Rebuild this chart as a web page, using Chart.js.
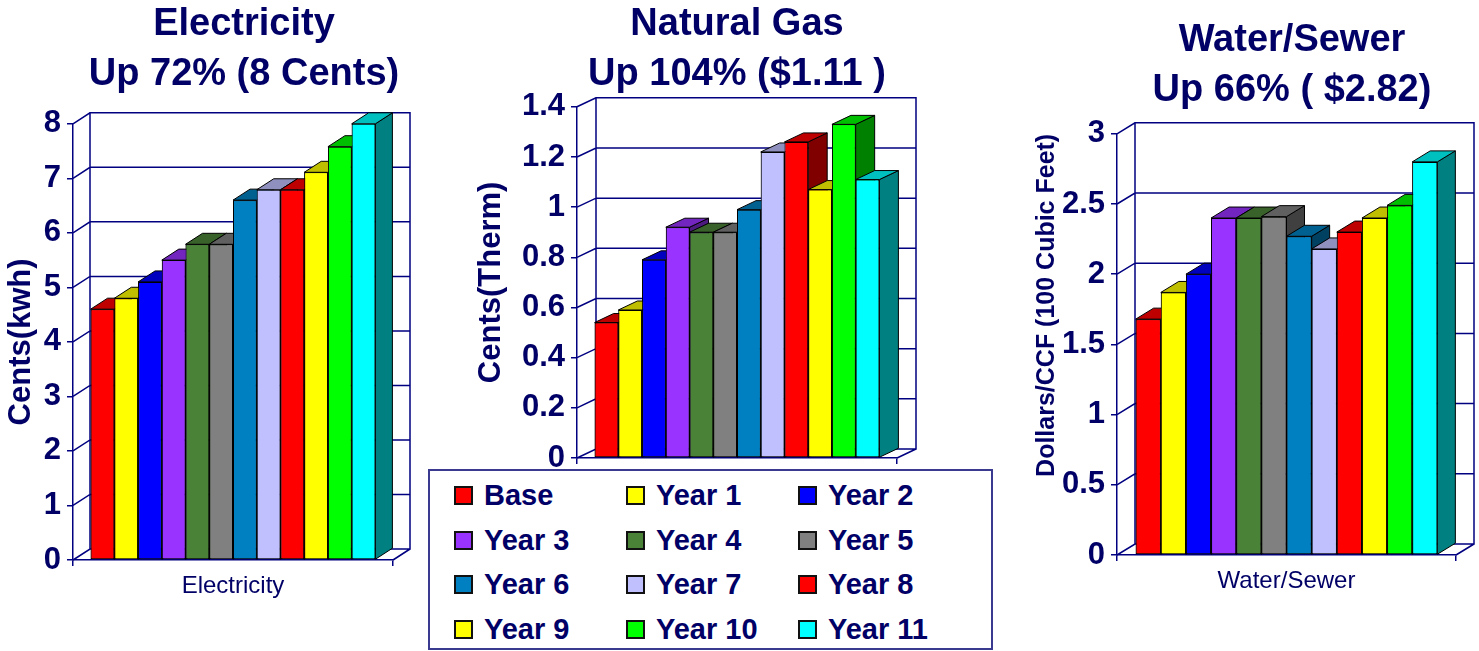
<!DOCTYPE html>
<html>
<head>
<meta charset="utf-8">
<title>Utility rates</title>
<script src="https://cdn.jsdelivr.net/npm/chart.js@4/dist/chart.umd.min.js"></script>
<style>
  html, body { margin: 0; padding: 0; background: #fff; overflow: hidden; }
  body { width: 1479px; height: 651px; position: relative; font-family: "Liberation Sans", Arial, sans-serif; }
  canvas { position: absolute; top: 0; }
  #elec { left: 0; }
  #gas { left: 470px; }
  #water { left: 1029px; }
  #legend {
    position: absolute; left: 428px; top: 469px; width: 565px; height: 181px;
    box-sizing: border-box; border: 2px solid #3a3a90; background: #fff;
    display: grid; grid-template-columns: 172px 172px 1fr; grid-auto-rows: 44.7px;
    padding: 2px 0 0 24px;
  }
  .item { display: flex; align-items: center; font-weight: bold; font-size: 29px; color: #000066; white-space: nowrap; }
  .sw { width: 19px; height: 19px; box-sizing: border-box; border: 2px solid #111; margin-right: 11px; flex: none; }
</style>
</head>
<body>
<canvas id="elec" width="488" height="600"></canvas>
<canvas id="gas" width="534" height="498"></canvas>
<canvas id="water" width="526" height="595"></canvas>
<div id="legend"></div>
<script>
const series = ['Base', 'Year 1', 'Year 2', 'Year 3', 'Year 4', 'Year 5',
                'Year 6', 'Year 7', 'Year 8', 'Year 9', 'Year 10', 'Year 11'];
const colors = ['#FF0000', '#FFFF00', '#0000FF', '#9933FF', '#4A8237', '#808080',
                '#0080C0', '#C0C0FF', '#FF0000', '#FFFF00', '#00FF00', '#00FFFF'];

const elecCategory = ['Electricity'];
const elecValues = [4.6, 4.8, 5.1, 5.5, 5.79, 5.79, 6.6, 6.79, 6.79, 7.11, 7.58, 8.0];
const elecTicks = [0, 1, 2, 3, 4, 5, 6, 7, 8];

const gasCategory = ['Natural Gas'];
const gasValues = [0.54, 0.59, 0.79, 0.92, 0.9, 0.9, 0.99, 1.22, 1.26, 1.07, 1.33, 1.11];
const gasTicks = [0, 0.2, 0.4, 0.6, 0.8, 1, 1.2, 1.4];

const waterCategory = ['Water/Sewer'];
const waterValues = [1.68, 1.87, 2.0, 2.4, 2.4, 2.41, 2.27, 2.18, 2.3, 2.4, 2.49, 2.8];
const waterTicks = [0, 0.5, 1, 1.5, 2, 2.5, 3];

const NAVY = '#000080';
const TEXT = '#000066';

Chart.defaults.font.family = '"Liberation Sans", Arial, sans-serif';
Chart.defaults.color = TEXT;

function shade(hex, f) {
  const n = parseInt(hex.slice(1), 16);
  const r = Math.round(((n >> 16) & 255) * f);
  const g = Math.round(((n >> 8) & 255) * f);
  const b = Math.round((n & 255) * f);
  return 'rgb(' + r + ',' + g + ',' + b + ')';
}

function poly(ctx, pts, fill) {
  ctx.beginPath();
  ctx.moveTo(pts[0][0], pts[0][1]);
  for (let i = 1; i < pts.length; i++) ctx.lineTo(pts[i][0], pts[i][1]);
  ctx.closePath();
  ctx.fillStyle = fill;
  ctx.fill();
  ctx.stroke();
}

// fake 3d: back wall + left wall + floor, then top/side faces of each bar
const box3d = {
  id: 'box3d',
  beforeDatasetsDraw(chart, args, opts) {
    const {ctx, chartArea: a} = chart;
    const y = chart.scales.y;
    const dx = opts.dx, dy = opts.dy;
    ctx.save();
    ctx.strokeStyle = NAVY;
    ctx.lineWidth = 1.5;
    ctx.beginPath();
    ctx.rect(a.left + dx, a.top + dy, a.width, a.height);
    y.ticks.forEach(t => {
      const py = y.getPixelForValue(t.value);
      ctx.moveTo(a.left, py);
      ctx.lineTo(a.left + dx, py + dy);
      ctx.lineTo(a.right + dx, py + dy);
    });
    ctx.moveTo(a.right, a.bottom);
    ctx.lineTo(a.right + dx, a.bottom + dy);
    ctx.stroke();
    ctx.restore();
  },
  afterDatasetsDraw(chart, args, opts) {
    const ctx = chart.ctx;
    const dx = opts.dx, dy = opts.dy;
    ctx.save();
    ctx.lineWidth = 1;
    ctx.strokeStyle = '#000';
    ctx.lineJoin = 'round';
    chart.data.datasets.forEach((ds, i) => {
      chart.getDatasetMeta(i).data.forEach(bar => {
        const p = bar.getProps(['x', 'y', 'base', 'width'], true);
        const l = p.x - p.width / 2, r = p.x + p.width / 2;
        poly(ctx, [[r, p.y], [r + dx, p.y + dy], [r + dx, p.base + dy], [r, p.base]], shade(ds.backgroundColor, 0.5));
        poly(ctx, [[l, p.y], [l + dx, p.y + dy], [r + dx, p.y + dy], [r, p.y]], shade(ds.backgroundColor, 0.75));
        bar.draw(ctx);
      });
    });
    ctx.restore();
  }
};

function makeChart(id, c) {
  return new Chart(document.getElementById(id), {
    type: 'bar',
    data: {
      labels: c.category,
      datasets: series.map((name, i) => ({
        label: name,
        data: [c.values[i]],
        backgroundColor: colors[i],
        borderColor: '#000',
        borderWidth: 1,
        borderSkipped: false,
        categoryPercentage: 0.89,
        barPercentage: 1
      }))
    },
    options: {
      responsive: false,
      animation: false,
      events: [],
      layout: { padding: 0 },
      plugins: {
        legend: { display: false },
        tooltip: { enabled: false },
        title: {
          display: true,
          text: c.title,
          color: TEXT,
          font: { size: 38, weight: 'bold', lineHeight: 1.3 },
          padding: { top: c.titleTop, bottom: c.titleBottom }
        },
        box3d: c.depth
      },
      scales: {
        x: {
          afterFit: s => { s.height = 40; },
          ticks: { display: c.showCategory, color: TEXT, font: { size: 24 }, padding: 6 },
          grid: { drawOnChartArea: false, offset: true, tickLength: 6, color: NAVY, lineWidth: 1.5 },
          border: { color: NAVY, width: 1.5 }
        },
        y: {
          min: 0,
          max: c.ticks[c.ticks.length - 1],
          afterBuildTicks: s => { s.ticks = c.ticks.map(v => ({ value: v })); },
          afterFit: s => { s.width = c.axisWidth; },
          ticks: { color: TEXT, font: { size: 31, weight: 'bold' }, padding: 6, callback: v => String(v) },
          grid: { drawOnChartArea: false, tickLength: 6, color: NAVY, lineWidth: 1.5 },
          border: { color: NAVY, width: 1.5 },
          title: {
            display: true,
            text: c.yTitle,
            align: c.yTitleAlign,
            color: TEXT,
            font: { size: c.yTitleSize, weight: 'bold', lineHeight: 1.2 },
            padding: { top: 3, bottom: 0 }
          }
        },
        // empty space on the right for the 3d depth, keeps the title centred on the canvas
        depth: {
          type: 'linear',
          position: 'right',
          afterFit: s => { s.width = c.padRight; },
          ticks: { display: false },
          grid: { display: false },
          border: { display: false }
        }
      }
    },
    plugins: [box3d]
  });
}

makeChart('elec', {
  category: elecCategory, values: elecValues, ticks: elecTicks,
  title: ['Electricity', 'Up 72% (8 Cents)'], titleTop: 0, titleBottom: 25,
  yTitle: 'Cents(kwh)', yTitleSize: 31, yTitleAlign: 'center', axisWidth: 73, padRight: 95,
  showCategory: true, depth: { dx: 17, dy: -11 }
});

makeChart('gas', {
  category: gasCategory, values: gasValues, ticks: gasTicks,
  title: ['Natural Gas', 'Up 104% ($1.11 )'], titleTop: 0, titleBottom: 8,
  yTitle: 'Cents(Therm)', yTitleSize: 31, yTitleAlign: 'center', axisWidth: 107, padRight: 107,
  showCategory: false, depth: { dx: 19, dy: -9 }
});

makeChart('water', {
  category: waterCategory, values: waterValues, ticks: waterTicks,
  title: ['Water/Sewer', 'Up 66% ( $2.82)'], titleTop: 16, titleBottom: 19,
  yTitle: 'Dollars/CCF (100 Cubic Feet)', yTitleSize: 25, yTitleAlign: 'end', axisWidth: 88, padRight: 99,
  showCategory: true, depth: { dx: 18, dy: -11 }
});

const legend = document.getElementById('legend');
series.forEach((name, i) => {
  const item = document.createElement('div');
  item.className = 'item';
  const sw = document.createElement('span');
  sw.className = 'sw';
  sw.style.background = colors[i];
  item.appendChild(sw);
  item.appendChild(document.createTextNode(name));
  legend.appendChild(item);
});
</script>
</body>
</html>
